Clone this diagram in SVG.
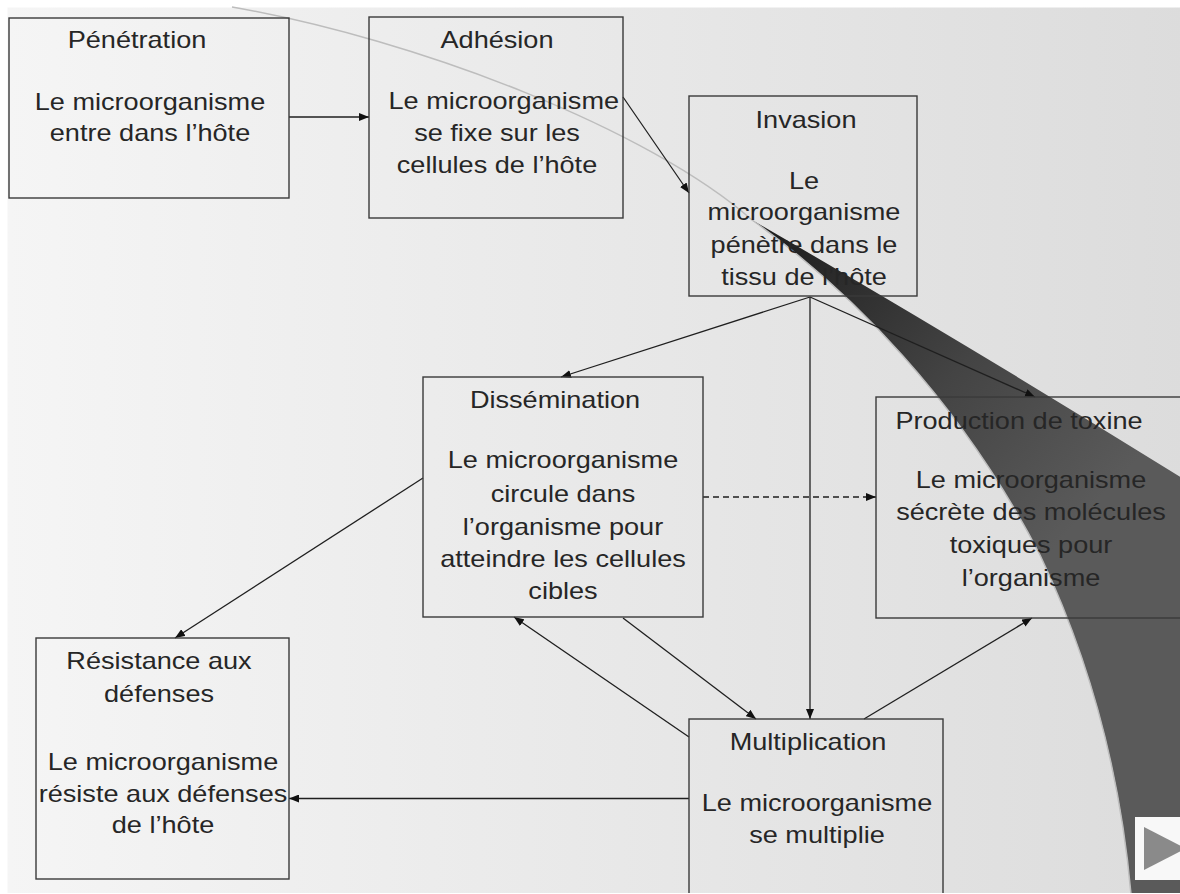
<svg xmlns="http://www.w3.org/2000/svg" width="1180" height="894" viewBox="0 0 1180 894">
  <defs>
    <linearGradient id="bg" x1="0" y1="0" x2="1" y2="0">
      <stop offset="0" stop-color="#f5f5f5"/>
      <stop offset="1" stop-color="#dcdcdc"/>
    </linearGradient>
    <linearGradient id="sw" gradientUnits="userSpaceOnUse" x1="770" y1="230" x2="1080" y2="520">
      <stop offset="0" stop-color="#1e1e1e"/>
      <stop offset="0.55" stop-color="#444444"/>
      <stop offset="1" stop-color="#5a5a5a"/>
    </linearGradient>
    <marker id="ah" viewBox="0 0 10 8" refX="10" refY="4" markerWidth="10" markerHeight="8" markerUnits="userSpaceOnUse" orient="auto">
      <path d="M0 0 L10 4 L0 8 Z" fill="#111"/>
    </marker>
    <style>
      .box { fill: none; stroke: #3a3a3a; stroke-width: 1.4; }
      .t { font-family: "Liberation Sans", Arial, sans-serif; font-size: 24px; fill: #262626; text-anchor: middle; }
      .c { fill: none; stroke: #1f1f1f; stroke-width: 1.3; marker-end: url(#ah); }
      .d { stroke-dasharray: 6 4; }
    </style>
  </defs>

  <!-- background -->
  <rect x="0" y="0" width="1180" height="894" fill="#ffffff"/>
  <rect x="7.5" y="7.5" width="1180" height="885.5" fill="url(#bg)"/>
  <path d="M752 220 Q960 340 1182 478 L1182 894 L1131 894 C1120 770 1090 660 1040 555 C960 400 850 290 752 220 Z" fill="url(#sw)"/>
  <path d="M232 7 C420 40 650 130 752 220 C850 290 960 400 1040 555 C1090 660 1120 770 1131 894" fill="none" stroke="#bdbdbd" stroke-width="1.5"/>
  <rect x="1135" y="817" width="50" height="63" fill="#f8f8f8"/>
  <path d="M1144 827 L1186 848.5 L1144 870 Z" fill="#8a8a8a"/>

  <!-- connectors -->
  <g id="connectors">
    <line class="c" x1="289" y1="117" x2="369" y2="117"/>
    <line class="c" x1="623" y1="97" x2="689" y2="193"/>
    <line class="c" x1="810" y1="297" x2="561" y2="377"/>
    <line class="c" x1="810" y1="297" x2="810" y2="719"/>
    <line class="c" x1="810" y1="297" x2="1035" y2="397"/>
    <line class="c d" x1="703" y1="497" x2="876" y2="497"/>
    <line class="c" x1="423" y1="478" x2="175" y2="638"/>
    <line class="c" x1="623" y1="618" x2="756" y2="719"/>
    <line class="c" x1="689" y1="737" x2="514" y2="617"/>
    <line class="c" x1="864" y1="719" x2="1032" y2="618"/>
    <line class="c" x1="689" y1="798.5" x2="289" y2="798.5"/>
  </g>

  <g id="penetration">
    <rect class="box" x="9" y="18" width="280" height="180"/>
    <g transform="translate(137,0) scale(1.13,1)"><text class="t" x="0" y="48">Pénétration</text></g>
    <g transform="translate(150,0) scale(1.13,1)">
      <text class="t" x="0" y="110">Le microorganisme</text>
      <text class="t" x="0" y="141">entre dans l’hôte</text>
    </g>
  </g>

  <g id="adhesion">
    <rect class="box" x="369" y="17" width="254" height="201"/>
    <g transform="translate(497,0) scale(1.13,1)">
      <text class="t" x="0" y="48">Adhésion</text>
      <text class="t" x="6" y="109.5">Le microorganisme</text>
      <text class="t" x="0" y="141">se fixe sur les</text>
      <text class="t" x="0" y="173">cellules de l’hôte</text>
    </g>
  </g>

  <g id="invasion">
    <rect class="box" x="689" y="96" width="228" height="200"/>
    <g transform="translate(806,0) scale(1.13,1)"><text class="t" x="0" y="128">Invasion</text></g>
    <g transform="translate(804,0) scale(1.13,1)">
      <text class="t" x="0" y="189.5">Le</text>
      <text class="t" x="0" y="220.5">microorganisme</text>
      <text class="t" x="0" y="253">pénètre dans le</text>
      <text class="t" x="0" y="285">tissu de l’hôte</text>
    </g>
  </g>

  <g id="dissemination">
    <rect class="box" x="423" y="377" width="280" height="240"/>
    <g transform="translate(555,0) scale(1.13,1)"><text class="t" x="0" y="408">Dissémination</text></g>
    <g transform="translate(563,0) scale(1.13,1)">
      <text class="t" x="0" y="468">Le microorganisme</text>
      <text class="t" x="0" y="502.5">circule dans</text>
      <text class="t" x="0" y="535">l’organisme pour</text>
      <text class="t" x="0" y="567">atteindre les cellules</text>
      <text class="t" x="0" y="599">cibles</text>
    </g>
  </g>

  <g id="production">
    <rect class="box" x="876" y="397" width="310" height="221"/>
    <g transform="translate(1019,0) scale(1.13,1)"><text class="t" x="0" y="429">Production de toxine</text></g>
    <g transform="translate(1031,0) scale(1.13,1)">
      <text class="t" x="0" y="488">Le microorganisme</text>
      <text class="t" x="0" y="520.5">sécrète des molécules</text>
      <text class="t" x="0" y="553">toxiques pour</text>
      <text class="t" x="0" y="586">l’organisme</text>
    </g>
  </g>

  <g id="resistance">
    <rect class="box" x="36" y="638" width="253" height="241"/>
    <g transform="translate(159,0) scale(1.13,1)">
      <text class="t" x="0" y="669.5">Résistance aux</text>
      <text class="t" x="0" y="702">défenses</text>
    </g>
    <g transform="translate(163,0) scale(1.13,1)">
      <text class="t" x="0" y="770">Le microorganisme</text>
      <text class="t" x="0" y="802">résiste aux défenses</text>
      <text class="t" x="0" y="833.5">de l’hôte</text>
    </g>
  </g>

  <g id="multiplication">
    <rect class="box" x="689" y="719" width="254" height="200"/>
    <g transform="translate(808,0) scale(1.13,1)"><text class="t" x="0" y="750">Multiplication</text></g>
    <g transform="translate(817,0) scale(1.13,1)">
      <text class="t" x="0" y="811">Le microorganisme</text>
      <text class="t" x="0" y="843.5">se multiplie</text>
    </g>
  </g>

  <rect x="0" y="893" width="1180" height="1" fill="#ffffff"/>
</svg>
